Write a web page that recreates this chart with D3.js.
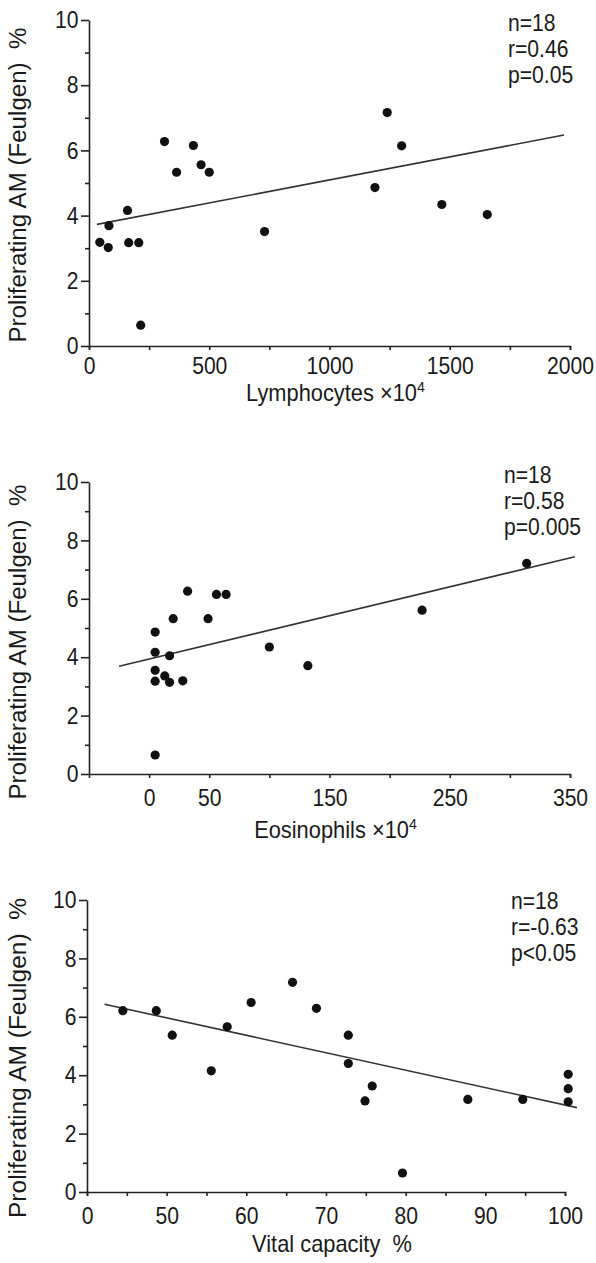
<html>
<head>
<style>
  body { margin: 0; background: #fff; }
  text { font-family: "Liberation Sans", Arial, sans-serif; fill: #1a1a1a; }
</style>
</head>
<body>
<div id="chart"></div>
<script src="https://d3js.org/d3.v7.min.js"></script>
<script>
// ---- data ----
// panel 1: lymphocytes (x10^4) vs proliferating AM %
let lymphocytes = [45, 83, 80, 160, 165, 207, 215, 314, 364, 434, 466, 500, 730, 1189, 1240, 1300, 1467, 1656]
let amLymph     = [3.18, 3.69, 3.02, 4.16, 3.17, 3.17, 0.64, 6.27, 5.33, 6.15, 5.56, 5.33, 3.51, 4.86, 7.16, 6.14, 4.34, 4.03]
let fitLymphX = [33, 1975]
let fitLymphY = [3.73, 6.47]
let statsLymph = ["n=18", "r=0.46", "p=0.05"]

// panel 2: eosinophils (x10^4)
let eosinophils = [5, 5, 5, 5, 5, 13, 17, 17, 20, 28, 32, 49, 56, 64, 100, 132, 227, 314]
let amEos       = [4.86, 4.17, 3.55, 3.18, 0.65, 3.36, 3.14, 4.05, 5.32, 3.19, 6.26, 5.32, 6.15, 6.15, 4.35, 3.71, 5.61, 7.21]
let fitEosX = [-25, 354]
let fitEosY = [3.69, 7.44]
let statsEos = ["n=18", "r=0.58", "p=0.005"]

// panel 3: vital capacity %  (axis is broken: first tick "0", then 50..100)
let vitalCap = [44.5, 48.7, 50.7, 55.6, 57.6, 60.6, 65.8, 68.8, 72.8, 72.8, 74.9, 75.8, 79.6, 87.8, 94.7, 100.4, 100.4, 100.4]
let amVc     = [6.21, 6.21, 5.37, 4.15, 5.66, 6.49, 7.18, 6.29, 5.37, 4.40, 3.12, 3.63, 0.65, 3.17, 3.17, 4.03, 3.54, 3.09]
let fitVcX = [42.2, 101.5]
let fitVcY = [6.43, 2.89]
let statsVc = ["n=18", "r=-0.63", "p<0.05"]

// tick values and labels
let yTicks = d3.range(0, 11, 1)
let xTicksLymph = d3.range(0, 2001, 250)
let xLabelsLymph = [0, 500, 1000, 1500, 2000]
let xTicksEos = d3.range(0, 351, 50)
let xLabelsEos = [0, 50, 150, 250, 350]
let xTicksVc = d3.range(40, 101, 5)
let xLabelValuesVc = [40, 50, 60, 70, 80, 90, 100]
let xLabelTextVc   = ["0", "50", "60", "70", "80", "90", "100"]

let yTitle = "Proliferating AM (Feulgen)  %"
let narrow = 0.88   // the print uses a condensed face

let svg = d3.select("#chart").append("svg")
    .attr("width", 596)
    .attr("height", 1263)

drawPanel({
    xDomain: [0, 2000], xRange: [89, 570], yRange: [346, 20],
    xs: lymphocytes, ys: amLymph, fitX: fitLymphX, fitY: fitLymphY,
    xTicks: xTicksLymph, xFormat: d => xLabelsLymph.includes(d) ? d : "",
    tickPad: 7, title: "Lymphocytes \u00d710", titleY: 401,
    stats: statsLymph, statsX: 508, statsY: 31, yTitleLen: 315, yTitleShift: 2
})

drawPanel({
    xDomain: [-50, 350], xRange: [89, 570], yRange: [774, 482],
    xs: eosinophils, ys: amEos, fitX: fitEosX, fitY: fitEosY,
    xTicks: xTicksEos, xFormat: d => xLabelsEos.includes(d) ? d : "",
    tickPad: 11, title: "Eosinophils \u00d710", titleY: 838,
    stats: statsEos, statsX: 504, statsY: 483, yTitleLen: 315, yTitleShift: 14
})

drawPanel({
    xDomain: [40, 100], xRange: [87, 565], yRange: [1192, 900],
    xs: vitalCap, ys: amVc, fitX: fitVcX, fitY: fitVcY,
    xTicks: xTicksVc, xFormat: d => {
        let i = xLabelValuesVc.indexOf(d)
        return i >= 0 ? xLabelTextVc[i] : ""
    },
    tickPad: 11, title: "Vital capacity  %", titleY: 1252, noSup: true,
    stats: statsVc, statsX: 511, statsY: 909, yTitleLen: 320, yTitleShift: 12
})

function drawPanel(c) {
    let x = d3.scaleLinear().domain(c.xDomain).range(c.xRange)
    let y = d3.scaleLinear().domain([0, 10]).range(c.yRange)
    let g = svg.append("g")

    // y axis, long ticks on even values
    let yAxis = g.append("g")
        .attr("transform", `translate(${x(c.xDomain[0])},0)`)
        .call(d3.axisLeft(y).tickValues(yTicks).tickSizeOuter(0)
            .tickFormat(d => d % 2 === 0 ? d : "").tickPadding(6))
    yAxis.selectAll(".tick line").attr("x2", d => d % 2 === 0 ? -8 : -4)

    // x axis
    g.append("g")
        .attr("transform", `translate(0,${y(0)})`)
        .call(d3.axisBottom(x).tickValues(c.xTicks).tickSizeOuter(0)
            .tickSize(4).tickPadding(c.tickPad).tickFormat(c.xFormat))

    g.selectAll(".domain, .tick line").attr("stroke", "#222").attr("stroke-width", 1.6)
    g.selectAll(".tick text").attr("font-size", 24).attr("fill", "#1a1a1a")
        .style("font-family", '"Liberation Sans", Arial, sans-serif')
        .attr("transform", `scale(${narrow},1)`)

    // regression line
    g.append("line")
        .attr("x1", x(c.fitX[0])).attr("y1", y(c.fitY[0]))
        .attr("x2", x(c.fitX[1])).attr("y2", y(c.fitY[1]))
        .attr("stroke", "#333").attr("stroke-width", 1.6)

    // points
    g.selectAll("circle")
        .data(c.xs.map((v, i) => [v, c.ys[i]]))
        .enter()
        .append("circle")
            .attr("cx", d => x(d[0]))
            .attr("cy", d => y(d[1]))
            .attr("r", 4.6)
            .attr("fill", "#111")

    // stats text
    c.stats.forEach((s, i) => {
        g.append("text")
            .attr("transform", `translate(${c.statsX},${c.statsY + i * 26}) scale(${narrow},1)`)
            .attr("font-size", 24)
            .text(s)
    })

    // x title
    let t = g.append("text")
        .attr("transform", `translate(${(c.xRange[0] + c.xRange[1]) / 2 + 6},${c.titleY}) scale(0.95,1)`)
        .attr("text-anchor", "middle")
        .attr("font-size", 23)
        .style("white-space", "pre")
        .text(c.title)
    if (!c.noSup) {
        t.append("tspan").attr("dy", -9).attr("font-size", 15).text("4")
    }

    // y title
    let yMid = (c.yRange[0] + c.yRange[1]) / 2 + c.yTitleShift
    g.append("text")
        .attr("transform", `translate(26,${yMid}) rotate(-90)`)
        .attr("text-anchor", "middle")
        .attr("font-size", 23)
        .attr("textLength", c.yTitleLen)
        .attr("lengthAdjust", "spacingAndGlyphs")
        .style("white-space", "pre")
        .text(yTitle)
}
</script>
</body>
</html>
